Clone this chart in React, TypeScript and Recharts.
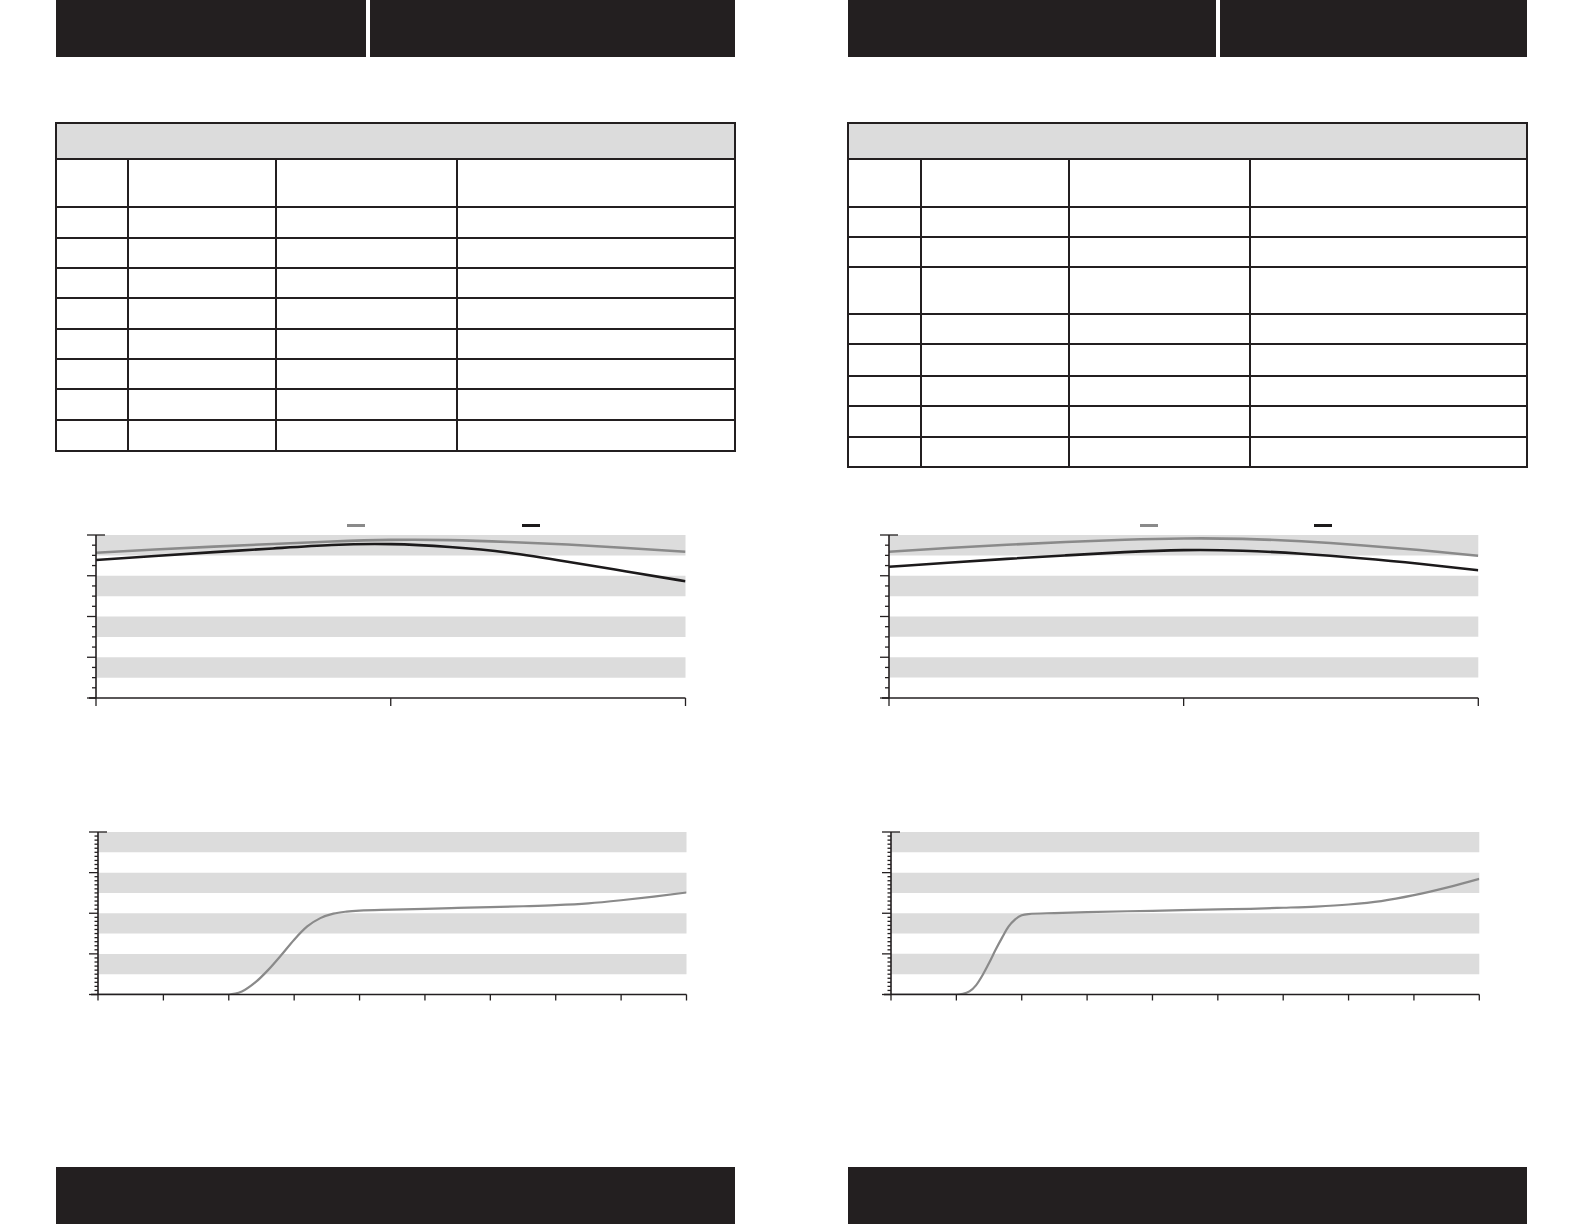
import React from 'react';
import { LineChart, Line, XAxis, YAxis, ReferenceArea, Legend } from 'recharts';

const INK = '#231f20';
const BAND = '#dcdcdc';
const GRAY_LINE = '#8a8a8a';
const BLACK_LINE = '#1c1a1b';

// ---------- data ----------
const topLeftX = [0, 10, 20, 30, 40, 50, 60, 70, 80, 90, 100];
const topLeftGray = [71.3, 72.9, 74.3, 75.6, 76.8, 77.6, 77.5, 76.6, 75.3, 73.6, 71.8];
const topLeftBlack = [67.7, 69.7, 71.6, 73.4, 75.1, 75.5, 74.1, 71.3, 66.9, 62.1, 57.3];

const topRightX = [0, 10, 20, 30, 40, 50, 60, 70, 80, 90, 100];
const topRightGray = [71.8, 73.6, 75.2, 76.6, 77.7, 78.3, 78.1, 76.9, 75.0, 72.6, 69.8];
const topRightBlack = [64.4, 66.4, 68.3, 70.0, 71.6, 72.6, 72.3, 70.8, 68.6, 65.9, 62.7];

const bottomLeftX = [0, 1, 2, 2.1, 2.2, 2.4, 2.6, 2.8, 3.0, 3.2, 3.4, 3.6, 3.8, 4, 4.5, 5, 5.5, 6, 6.5, 7, 7.5, 8, 8.5, 9];
const bottomLeftY = [0, 0, 0, 0.4, 1.5, 5.8, 12, 19.3, 27, 33.5, 37.6, 39.8, 40.8, 41.3, 41.75, 42.2, 42.6, 43.0, 43.45, 44.0, 44.9, 46.4, 48.2, 50.2];

const bottomRightX = [0, 1, 1.1, 1.2, 1.3, 1.4, 1.5, 1.6, 1.7, 1.8, 1.9, 2.0, 2.1, 2.5, 3, 4, 5, 5.5, 6, 6.5, 7, 7.5, 8, 8.5, 9];
const bottomRightY = [0, 0, 0.3, 1.5, 4.5, 9.5, 15.5, 22, 28, 33.5, 37, 39, 39.6, 40.1, 40.6, 41.2, 41.9, 42.2, 42.7, 43.3, 44.3, 46.0, 48.9, 52.6, 56.9];

const topXTicks = [0, 50, 100];
const bottomXTicks = [0, 1, 2, 3, 4, 5, 6, 7, 8, 9];
const topYTicks = Array.from({ length: 17 }, (_, i) => i * 5);
const bottomYTicks = Array.from({ length: 41 }, (_, i) => i * 2);
const bands: [number, number][] = [[70, 80], [50, 60], [30, 40], [10, 20]];

// ---------- layout constants ----------
const AXIS_W = 40;
const TOP_M = 35;
const RIGHT_M = 10;
const X_H = 20;

type Plot = { l: number; r: number; t: number; b: number };
type Series = { key: string; values: number[]; color: string; width: number };

function makeYTick(major: number, majorLen: number, minorLen: number, topExtend: number, max: number) {
  return (props: any) => {
    const { x, y, payload } = props;
    const v = payload.value;
    const isMajor = v % major === 0;
    const len = isMajor ? majorLen : minorLen;
    const x2 = v === max ? x + topExtend : x;
    return (
      <g>
        <line x1={x - len} y1={y} x2={x2} y2={y} stroke={INK} strokeWidth={1.3} />
      </g>
    );
  };
}

function makeXTick(len: number, leftExtend: number, min: number) {
  return (props: any) => {
    const { x, y, payload } = props;
    return (
      <g>
        <line x1={x} y1={y} x2={x} y2={y + len} stroke={INK} strokeWidth={1.3} />
        {payload.value === min ? <line x1={x - leftExtend} y1={y} x2={x} y2={y} stroke={INK} strokeWidth={1.6} /> : null}
      </g>
    );
  };
}

function LegendSwatches({ payload, offsets, y }: { payload?: any[]; offsets: Record<string, number>; y: number }) {
  return (
    <div style={{ position: 'relative', width: 0, height: 0 }}>
      {(payload || []).map((p: any, i: number) => {
        const key = String(p.dataKey ?? p.value);
        const left = offsets[key];
        if (left === undefined) return null;
        return (
          <div
            key={i}
            style={{ position: 'absolute', left, top: y - 1.5, width: 18, height: 3, background: p.color }}
          />
        );
      })}
    </div>
  );
}

function BandChart({
  plot, xValues, series, xDomain, xTicks, yTicks, minorLen, xTickLen, legendX, curve,
}: {
  plot: Plot; xValues: number[]; series: Series[]; xDomain: [number, number]; xTicks: number[];
  yTicks: number[]; minorLen: number; xTickLen: number; legendX?: Record<string, number>; curve: 'natural' | 'monotone';
}) {
  const data = xValues.map((x, i) => {
    const row: any = { x };
    series.forEach((s) => { row[s.key] = s.values[i]; });
    return row;
  });
  const left = plot.l - AXIS_W;
  const top = plot.t - TOP_M;
  const width = plot.r - plot.l + AXIS_W + RIGHT_M;
  const height = plot.b - plot.t + TOP_M + X_H;
  const yTick = makeYTick(20, 9, minorLen, 9, 80);
  const xTick = makeXTick(xTickLen, 7, xDomain[0]);
  const offsets: Record<string, number> = {};
  if (legendX) Object.keys(legendX).forEach((k) => { offsets[k] = legendX[k] - left; });
  return (
    <div style={{ position: 'absolute', left, top }}>
      <LineChart width={width} height={height} data={data} margin={{ top: TOP_M, right: RIGHT_M, left: 0, bottom: 0 }}>
        {bands.map(([a, b]) => (
          <ReferenceArea key={a} y1={a} y2={b} fill={BAND} fillOpacity={1} stroke="none" />
        ))}
        <XAxis
          dataKey="x" type="number" domain={xDomain} ticks={xTicks} interval={0} height={X_H}
          tickSize={0} tickMargin={0} tick={xTick} tickLine={false}
          axisLine={{ stroke: INK, strokeWidth: 1.6 }} allowDataOverflow
        />
        <YAxis
          type="number" domain={[0, 80]} ticks={yTicks} interval={0} width={AXIS_W}
          tickSize={0} tickMargin={0} tick={yTick} tickLine={false}
          axisLine={{ stroke: INK, strokeWidth: 1.6 }} allowDataOverflow
        />
        {series.map((s) => (
          <Line
            key={s.key} dataKey={s.key} type={curve} stroke={s.color} strokeWidth={s.width}
            dot={false} activeDot={false} isAnimationActive={false}
          />
        ))}
        {legendX ? (
          <Legend
            verticalAlign="top"
            wrapperStyle={{ top: 0, left: 0, width: 0, height: 0 }}
            content={(p: any) => <LegendSwatches payload={p.payload} offsets={offsets} y={525 - top} />}
          />
        ) : null}
      </LineChart>
    </div>
  );
}

function Table({ cols, rows }: { cols: number[]; rows: number[] }) {
  const x0 = cols[0];
  const x1 = cols[cols.length - 1];
  const y0 = rows[0];
  const y1 = rows[rows.length - 1];
  const lw = 2;
  return (
    <>
      <div style={{ position: 'absolute', left: x0, top: y0, width: x1 - x0, height: rows[1] - y0, background: BAND }} />
      {rows.map((y, i) => (
        <div key={'h' + i} style={{ position: 'absolute', left: x0 - lw / 2, top: y - lw / 2, width: x1 - x0 + lw, height: lw, background: INK }} />
      ))}
      {cols.map((x, i) => {
        const edge = i === 0 || i === cols.length - 1;
        const top = edge ? y0 : rows[1];
        return (
          <div key={'v' + i} style={{ position: 'absolute', left: x - lw / 2, top: top - lw / 2, width: lw, height: y1 - top + lw, background: INK }} />
        );
      })}
    </>
  );
}

const Bar = ({ l, r, t, b }: { l: number; r: number; t: number; b: number }) => (
  <div style={{ position: 'absolute', left: l, top: t, width: r - l, height: b - t, background: INK }} />
);

export default function App() {
  return (
    <div style={{ position: 'absolute', left: 0, top: 0, width: 1584, height: 1224, background: '#fff', overflow: 'hidden' }}>
      {/* header bars */}
      <Bar l={55.6} r={366.5} t={0} b={56.6} />
      <Bar l={369.5} r={735} t={0} b={56.6} />
      <Bar l={848.2} r={1216.5} t={0} b={56.6} />
      <Bar l={1219.5} r={1527} t={0} b={56.6} />
      {/* footer bars */}
      <Bar l={55.6} r={735} t={1167} b={1224} />
      <Bar l={848.2} r={1527} t={1167} b={1224} />

      {/* tables */}
      <Table cols={[55.6, 128.4, 276, 457, 735]} rows={[123, 158.5, 207, 237.5, 268, 298, 328.5, 359, 389.3, 419.5, 450.5]} />
      <Table cols={[848.2, 921, 1068.6, 1249.6, 1527]} rows={[123.3, 158.5, 206.7, 236.7, 267.3, 314.3, 344.3, 375.7, 405.7, 436.7, 466.7]} />

      {/* charts */}
      <BandChart
        plot={{ l: 96, r: 685.5, t: 534.5, b: 697.5 }}
        xValues={topLeftX}
        series={[
          { key: 'gray', values: topLeftGray, color: GRAY_LINE, width: 2.6 },
          { key: 'black', values: topLeftBlack, color: BLACK_LINE, width: 2.6 },
        ]}
        xDomain={[0, 100]} xTicks={topXTicks} yTicks={topYTicks} minorLen={4} xTickLen={8}
        legendX={{ gray: 347, black: 522 }} curve="natural"
      />
      <BandChart
        plot={{ l: 888.7, r: 1478, t: 534.5, b: 697.5 }}
        xValues={topRightX}
        series={[
          { key: 'gray', values: topRightGray, color: GRAY_LINE, width: 2.6 },
          { key: 'black', values: topRightBlack, color: BLACK_LINE, width: 2.6 },
        ]}
        xDomain={[0, 100]} xTicks={topXTicks} yTicks={topYTicks} minorLen={4} xTickLen={8}
        legendX={{ gray: 1140, black: 1314 }} curve="natural"
      />
      <BandChart
        plot={{ l: 98, r: 686.5, t: 832, b: 994.5 }}
        xValues={bottomLeftX}
        series={[{ key: 'gray', values: bottomLeftY, color: GRAY_LINE, width: 2.2 }]}
        xDomain={[0, 9]} xTicks={bottomXTicks} yTicks={bottomYTicks} minorLen={3.5} xTickLen={6}
        curve="monotone"
      />
      <BandChart
        plot={{ l: 890.7, r: 1479, t: 832, b: 994.5 }}
        xValues={bottomRightX}
        series={[{ key: 'gray', values: bottomRightY, color: GRAY_LINE, width: 2.2 }]}
        xDomain={[0, 9]} xTicks={bottomXTicks} yTicks={bottomYTicks} minorLen={3.5} xTickLen={6}
        curve="monotone"
      />
    </div>
  );
}
